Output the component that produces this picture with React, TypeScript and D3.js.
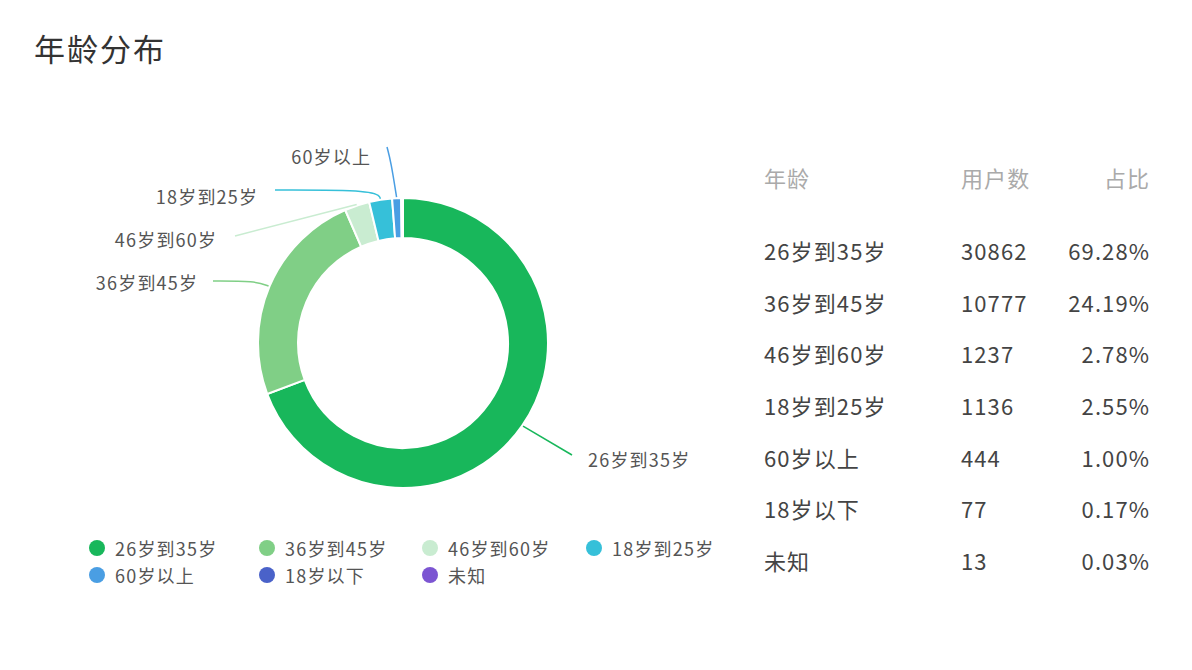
import React from "react";
import * as d3 from "d3";

const categories = ["26岁到35岁", "36岁到45岁", "46岁到60岁", "18岁到25岁", "60岁以上", "18岁以下", "未知"];
const users = [30862, 10777, 1237, 1136, 444, 77, 13];
const shares = ["69.28%", "24.19%", "2.78%", "2.55%", "1.00%", "0.17%", "0.03%"];
const colors = ["#18b75b", "#80cf86", "#c9ecd1", "#36c0d9", "#4a9ee3", "#4a62c9", "#7c55d2"];
const headers = ["年龄", "用户数", "占比"];
const title = "年龄分布";

// label layout (per labeled slice index): elbow/end point and text anchor
const labelLayout: Record<number, { pts: [number, number][]; tx: number; ty: number; anchor: string }> = {
  0: { pts: [[572, 455]], tx: 588, ty: 459, anchor: "start" },
  1: { pts: [[255, 281], [213, 281]], tx: 197, ty: 282, anchor: "end" },
  2: { pts: [[235, 236]], tx: 216, ty: 239, anchor: "end" },
  3: { pts: [[377, 190], [275, 190]], tx: 257, ty: 196, anchor: "end" },
  4: { pts: [[391, 162], [387, 147]], tx: 370, ty: 156, anchor: "end" },
};

const FONT = "'Noto Sans CJK SC', 'Noto Sans', sans-serif";

export default function App() {
  const W = 1192, H = 670;
  const cx = 403, cy = 343, rOuter = 145, rInner = 105;
  const pie = d3.pie<number>().sort(null).value((d) => d).startAngle(0).endAngle(2 * Math.PI);
  const arcs = pie(users);
  const arc = d3.arc<d3.PieArcDatum<number>>().innerRadius(rInner).outerRadius(rOuter);
  const lineGen = d3.line().curve(d3.curveBasis);

  const rowY = d3.scalePoint<string>().domain(categories).range([250, 560]);
  const legendX = [97, 267, 430, 594];
  const legendY = [548, 575];
  const ls = 1.2;
  const tls = 1.1;

  return (
    <svg width={W} height={H} style={{ position: "absolute", left: 0, top: 0, background: "#fff" }} fontFamily={FONT}>
      <text x={34} y={61} fontSize={31} fill="#333" letterSpacing={2}>{title}</text>
      <g transform={`translate(${cx},${cy})`}>
        {arcs.map((a, i) => (
          <path key={i} d={arc(a) || ""} fill={colors[i]} stroke="#fff" strokeWidth={2} />
        ))}
      </g>
      {arcs.map((a, i) => {
        const lay = labelLayout[i];
        if (!lay) return null;
        const mid = (a.startAngle + a.endAngle) / 2;
        const sx = cx + Math.sin(mid) * (rOuter + 1);
        const sy = cy - Math.cos(mid) * (rOuter + 1);
        const pts: [number, number][] = [[sx, sy], ...lay.pts];
        return (
          <g key={i}>
            <path d={lineGen(pts) || ""} fill="none" stroke={colors[i]} strokeWidth={1.5} />
            <text x={lay.anchor === "end" ? lay.tx + ls : lay.tx} y={lay.ty} fontSize={18} fill="#555"
              letterSpacing={ls} textAnchor={lay.anchor} dominantBaseline="central">
              {categories[i]}
            </text>
          </g>
        );
      })}
      {categories.map((c, i) => {
        const col = i % 4, row = Math.floor(i / 4);
        const x = legendX[col], y = legendY[row];
        return (
          <g key={c}>
            <circle cx={x} cy={y} r={8} fill={colors[i]} />
            <text x={x + 18} y={y} fontSize={18} fill="#555" letterSpacing={ls} dominantBaseline="central">{c}</text>
          </g>
        );
      })}
      <g fontSize={22} letterSpacing={tls}>
        <text x={764} y={177} fill="#aaa" dominantBaseline="central">{headers[0]}</text>
        <text x={961} y={177} fill="#aaa" dominantBaseline="central">{headers[1]}</text>
        <text x={1149 + tls} y={177} fill="#aaa" textAnchor="end" dominantBaseline="central">{headers[2]}</text>
        {categories.map((c, i) => (
          <g key={c}>
            <text x={764} y={rowY(c)} fill="#444" dominantBaseline="central">{c}</text>
            <text x={961} y={rowY(c)} fill="#444" dominantBaseline="central">{users[i]}</text>
            <text x={1149 + tls} y={rowY(c)} fill="#444" textAnchor="end" dominantBaseline="central">{shares[i]}</text>
          </g>
        ))}
      </g>
    </svg>
  );
}
